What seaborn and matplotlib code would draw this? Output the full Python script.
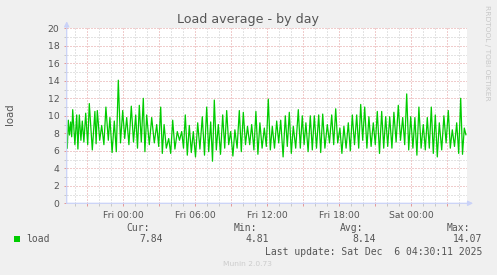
import numpy as np
import pandas as pd
import matplotlib
matplotlib.use("Agg")
import matplotlib.pyplot as plt
import seaborn as sns
from matplotlib.ticker import FixedLocator
from matplotlib.patches import Rectangle

# ---- data (minutes relative to Fri 00:00, load values) ----
peak_minutes = [-275, -263, -253, -233, -220, -205, -188, -170, -142, -130, -108, -87, -67, -45,
                -25, -3, 17, 40, 62, 80, 100, 117, 142, 167, 187, 204, 227, 247, 270, 292, 310,
                330, 350, 372, 395, 417, 437, 455, 475, 497, 517, 537, 558, 580, 600, 621, 642,
                663, 683, 705, 725, 745, 767, 787, 810, 830, 850, 875, 895, 913, 935, 955, 977,
                997, 1020, 1042, 1062, 1083, 1103, 1125, 1145, 1167, 1187, 1207, 1228, 1250, 1270,
                1292, 1312, 1332, 1353, 1375, 1397, 1417, 1437, 1458, 1478, 1500, 1520, 1540, 1560,
                1580, 1603, 1625, 1645, 1667, 1687, 1705]
peak_load = [9.5, 9.3, 10.7, 10.1, 10.1, 9.4, 10.3, 11.4, 10.5, 10.6, 8.9, 11.0, 9.8, 9.4,
             14.07, 10.6, 9.8, 11.1, 10.1, 11.2, 12.0, 10.1, 9.8, 9.0, 11.0, 9.0, 7.4, 9.5, 8.2, 8.2, 10.1,
             8.9, 8.2, 9.2, 9.9, 11.0, 9.3, 11.8, 9.0, 10.1, 10.6, 8.2, 8.4, 10.6, 10.4, 8.8, 9.0,
             10.5, 9.2, 8.6, 11.9, 8.8, 9.4, 9.5, 10.0, 10.4, 8.8, 10.7, 10.0, 9.2, 10.0, 10.0, 10.1,
             10.2, 9.0, 10.1, 10.8, 8.6, 8.8, 9.2, 10.1, 10.1, 11.3, 11.0, 9.9, 9.2, 10.5,
             10.5, 9.9, 9.9, 10.4, 11.2, 9.8, 12.5, 9.9, 9.8, 11.0, 9.0, 9.8, 11.0, 10.1,
             9.2, 10.0, 10.6, 8.4, 9.2, 12.0, 8.6]
trough_minutes = [-280, -269, -258, -242, -227, -212, -197, -178, -155, -136, -118, -97, -75, -56,
                  -35, -14, 7, 28, 51, 71, 90, 108, 130, 155, 177, 195, 215, 237, 258, 281, 301,
                  320, 340, 361, 383, 406, 427, 446, 465, 486, 507, 527, 548, 569, 590, 611, 632,
                  653, 673, 694, 715, 735, 756, 777, 799, 820, 840, 862, 885, 904, 924, 945, 966,
                  987, 1008, 1031, 1052, 1072, 1093, 1114, 1135, 1156, 1177, 1197, 1218, 1239, 1260,
                  1281, 1302, 1322, 1343, 1364, 1386, 1407, 1427, 1448, 1468, 1489, 1510, 1530, 1550,
                  1570, 1592, 1614, 1635, 1656, 1677, 1696, 1713]
trough_load = [6.3, 7.8, 7.6, 6.7, 6.2, 7.2, 7.0, 6.7, 6.1, 6.8, 7.2, 6.7, 7.2, 5.8,
               5.9, 6.9, 7.4, 6.7, 7.0, 6.3, 7.0, 5.9, 6.7, 6.9, 6.5, 5.7, 6.3, 5.7, 6.2, 7.2, 6.3,
               5.5, 5.8, 5.3, 6.2, 5.5, 5.9, 4.81, 6.1, 5.6, 6.3, 6.7, 5.4, 6.3, 5.9, 6.7, 6.7,
               6.1, 5.6, 6.3, 6.5, 6.1, 6.3, 6.9, 5.3, 6.5, 5.7, 6.3, 6.3, 6.7, 5.9, 6.1, 6.3,
               5.8, 6.3, 6.9, 6.7, 6.9, 5.7, 6.3, 6.0, 6.7, 6.3, 7.2, 6.3, 6.5, 6.7,
               5.7, 6.3, 6.5, 6.3, 7.0, 7.2, 6.7, 6.1, 6.3, 5.5, 6.3, 6.1, 6.3, 5.7,
               5.3, 6.1, 6.9, 6.3, 6.5, 5.7, 5.6, 7.84]

x_tick_minutes = [0, 360, 720, 1080, 1440]
x_tick_labels = ["Fri 00:00", "Fri 06:00", "Fri 12:00", "Fri 18:00", "Sat 00:00"]
y_ticks = [0, 2, 4, 6, 8, 10, 12, 14, 16, 18, 20]
series_name = "load"
stat_names = ["Cur:", "Min:", "Avg:", "Max:"]
stat_values = [7.84, 4.81, 8.14, 14.07]
title = "Load average - by day"
last_update = "Last update: Sat Dec  6 04:30:11 2025"

df = pd.concat([
    pd.DataFrame({"minute": peak_minutes, "load": peak_load}),
    pd.DataFrame({"minute": trough_minutes, "load": trough_load}),
]).sort_values("minute").reset_index(drop=True)

# ---- figure ----
W, H = 497, 275
BG = "#F0F0F0"
TXT = "#555555"
fig = plt.figure(figsize=(W / 100, H / 100), dpi=100, facecolor=BG)
fx = lambda px: px / W
fy = lambda py: 1 - py / H

ax = fig.add_axes([fx(66.7), fy(203.3), 400 / W, 175 / H])
ax.set_facecolor("white")
ax.set_xlim(-283, 1717)
ax.set_ylim(0, 20)
for s in ax.spines.values():
    s.set_visible(False)

major_x = list(range(-180, 1717, 180))
ax.xaxis.set_major_locator(FixedLocator(major_x))
ax.xaxis.set_minor_locator(FixedLocator([m for m in range(-240, 1717, 60) if m % 180 != 0]))
ax.yaxis.set_major_locator(FixedLocator(y_ticks))
ax.yaxis.set_minor_locator(FixedLocator(list(range(1, 20, 2))))
ax.grid(which="minor", color="#C8C8C8", linestyle=(0, (1, 2)), linewidth=0.72)
ax.grid(which="major", color="#E39A9A", linestyle=(0, (1, 2)), linewidth=0.72)
ax.set_axisbelow(True)

ax.set_xticks(major_x)
ax.set_xticklabels([x_tick_labels[x_tick_minutes.index(m)] if m in x_tick_minutes else "" for m in major_x])
ax.set_yticks(y_ticks)
ax.set_yticklabels([str(v) for v in y_ticks])
ax.tick_params(which="major", length=2, width=0.72, color="#E39A9A", labelsize=6.7, labelcolor=TXT, pad=3.2)
ax.tick_params(which="minor", length=2, width=0.72, color="#C8C8C8")

sns.lineplot(data=df, x="minute", y="load", ax=ax, color="#00CC00", linewidth=0.9,
             estimator=None, sort=True, legend=False)
ax.set_xlabel("")
ax.set_ylabel("")

# axis lines with arrows
AX = "#CAD2F8"
ax.annotate("", xy=(0, 1.04), xytext=(0, 0), xycoords="axes fraction",
            arrowprops=dict(arrowstyle="-|>,head_length=0.3,head_width=0.15", color=AX, lw=0.9, shrinkA=0, shrinkB=0),
            annotation_clip=False)
ax.annotate("", xy=(1.016, 0), xytext=(0, 0), xycoords="axes fraction",
            arrowprops=dict(arrowstyle="-|>,head_length=0.3,head_width=0.15", color=AX, lw=0.9, shrinkA=0, shrinkB=0),
            annotation_clip=False)

# texts
fig.text(fx(248.2), fy(19.5), title, ha="center", va="center", fontsize=9.1, color=TXT)
fig.text(fx(10.5), fy(114), "load", rotation=90, ha="center", va="center", fontsize=7.3, color=TXT)
fig.text(fx(487.5), fy(53), "RRDTOOL / TOBI OETIKER", rotation=270, ha="center", va="center",
         fontsize=5.4, color="#C8C8C8")
fig.text(fx(247.8), fy(264.3), "Munin 2.0.73", ha="center", va="center", fontsize=5.4, color="#CCCCCC")

mono = dict(family="DejaVu Sans Mono", fontsize=7.0, color=TXT, va="center")
fig.patches.append(Rectangle((fx(14), fy(241.8)), 5.5 / W, 5.5 / H, transform=fig.transFigure,
                             facecolor="#00CC00", edgecolor="none"))
fig.text(fx(26.7), fy(239.3), series_name, ha="left", **mono)
name_right = [150.2, 257.2, 363.3, 470.2]
val_right = [162.8, 269.2, 375.8, 482.3]
for n, v, xr_n, xr_v in zip(stat_names, stat_values, name_right, val_right):
    fig.text(fx(xr_n), fy(227.7), n, ha="right", **mono)
    fig.text(fx(xr_v), fy(239.3), f"{v:.2f}", ha="right", **mono)
fig.text(fx(482.3), fy(251.7), last_update, ha="right", **mono)

fig.savefig("out.png", dpi=100, facecolor=BG)
